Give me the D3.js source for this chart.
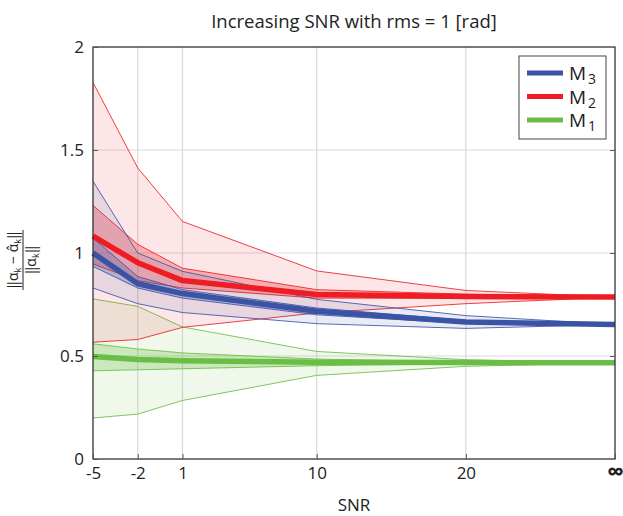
<!DOCTYPE html>
<html>
<head>
<meta charset="utf-8">
<script src="https://cdn.jsdelivr.net/npm/d3@7"></script>
<style>
  body { margin: 0; background: #fff; }
  svg text { font-family: "Open Sans", "Noto Sans", sans-serif; fill: #222; }
</style>
</head>
<body>
<div id="chart"></div>
<script>
// x positions (∞ drawn at 30) and their labels
const snrValues = [-5, -2, 1, 10, 20, 30];
const snrLabels = ["-5", "-2", "1", "10", "20", "\u221E"];
const yTicks = [0, 0.5, 1, 1.5, 2];

// M3 (blue)
const m3Mean    = [1.000, 0.851, 0.803, 0.717, 0.665, 0.653];
const m3InnerHi = [1.073, 0.886, 0.822, 0.733, 0.673, 0.653];
const m3InnerLo = [0.935, 0.830, 0.781, 0.700, 0.658, 0.653];
const m3OuterHi = [1.348, 1.000, 0.911, 0.775, 0.696, 0.653];
const m3OuterLo = [0.830, 0.754, 0.711, 0.657, 0.634, 0.653];

// M2 (red)
const m2Mean    = [1.082, 0.953, 0.866, 0.799, 0.789, 0.786];
const m2InnerHi = [1.231, 1.042, 0.926, 0.822, 0.800, 0.786];
const m2InnerLo = [0.947, 0.866, 0.830, 0.781, 0.780, 0.786];
const m2OuterHi = [1.828, 1.413, 1.153, 0.913, 0.818, 0.786];
const m2OuterLo = [0.567, 0.580, 0.639, 0.709, 0.754, 0.786];

// M1 (green)
const m1Mean    = [0.497, 0.483, 0.477, 0.470, 0.468, 0.467];
const m1InnerHi = [0.559, 0.534, 0.515, 0.485, 0.472, 0.467];
const m1InnerLo = [0.428, 0.433, 0.438, 0.453, 0.462, 0.467];
const m1OuterHi = [0.777, 0.741, 0.641, 0.522, 0.482, 0.467];
const m1OuterLo = [0.199, 0.218, 0.284, 0.406, 0.450, 0.467];

const series = [
    { name: "M", sub: "1", color: "#6abd45", mean: m1Mean, iHi: m1InnerHi, iLo: m1InnerLo, oHi: m1OuterHi, oLo: m1OuterLo },
    { name: "M", sub: "2", color: "#ee1d23", mean: m2Mean, iHi: m2InnerHi, iLo: m2InnerLo, oHi: m2OuterHi, oLo: m2OuterLo },
    { name: "M", sub: "3", color: "#3a53a4", mean: m3Mean, iHi: m3InnerHi, iLo: m3InnerLo, oHi: m3OuterHi, oLo: m3OuterLo }
];

const W = 623, H = 516;
const margin = { top: 47, right: 8, bottom: 57, left: 93 };
const width = W - margin.left - margin.right;
const height = H - margin.top - margin.bottom;

const svg = d3.select("#chart").append("svg")
    .attr("width", W).attr("height", H);

const g = svg.append("g")
    .attr("transform", `translate(${margin.left},${margin.top})`);

const x = d3.scaleLinear().domain([-5, 30]).range([0, width]);
const y = d3.scaleLinear().domain([0, 2]).range([height, 0]);

// grid
g.append("g").selectAll("line").data(snrValues.slice(1, -1)).join("line")
    .attr("x1", d => x(d)).attr("x2", d => x(d))
    .attr("y1", 0).attr("y2", height)
    .attr("stroke", "#d9d9d9").attr("stroke-width", 1.2);
g.append("g").selectAll("line").data(yTicks.slice(1, -1)).join("line")
    .attr("x1", 0).attr("x2", width)
    .attr("y1", d => y(d)).attr("y2", d => y(d))
    .attr("stroke", "#d9d9d9").attr("stroke-width", 1.2);

const area = (lo, hi) => d3.area()
    .x((d, i) => x(snrValues[i]))
    .y0((d, i) => y(lo[i]))
    .y1((d, i) => y(hi[i]))(snrValues);
const line = vals => d3.line()
    .x((d, i) => x(snrValues[i]))
    .y((d, i) => y(vals[i]))(snrValues);

// bands
series.forEach(s => {
    g.append("path").attr("d", area(s.oLo, s.oHi))
        .attr("fill", s.color).attr("fill-opacity", 0.11);
    g.append("path").attr("d", area(s.iLo, s.iHi))
        .attr("fill", s.color).attr("fill-opacity", 0.28);
    [s.oHi, s.oLo, s.iHi, s.iLo].forEach(v => {
        g.append("path").attr("d", line(v))
            .attr("fill", "none").attr("stroke", s.color)
            .attr("stroke-width", 1).attr("stroke-opacity", 0.85);
    });
});

// mean lines
series.forEach(s => {
    g.append("path").attr("d", line(s.mean))
        .attr("fill", "none").attr("stroke", s.color)
        .attr("stroke-width", 5.5).attr("stroke-linejoin", "round");
});

// frame
g.append("rect").attr("width", width).attr("height", height)
    .attr("fill", "none").attr("stroke", "#333").attr("stroke-width", 1.3);

// axes
const yAxis = g.append("g")
    .call(d3.axisLeft(y).tickValues(yTicks).tickFormat(d3.format("")).tickSizeInner(-5).tickSizeOuter(0).tickPadding(9));
yAxis.select(".domain").remove();
yAxis.selectAll("line").attr("stroke", "#555");
yAxis.selectAll("text").style("font-size", "17px").attr("fill", "#222");

const yAxisR = g.append("g").attr("transform", `translate(${width},0)`)
    .call(d3.axisRight(y).tickValues(yTicks.slice(1, -1)).tickFormat("").tickSizeInner(-5).tickSizeOuter(0));
yAxisR.select(".domain").remove();
yAxisR.selectAll("line").attr("stroke", "#555");

const xAxis = g.append("g").attr("transform", `translate(0,${height})`)
    .call(d3.axisBottom(x).tickValues(snrValues).tickFormat((d, i) => snrLabels[i]).tickSizeInner(-5).tickSizeOuter(0).tickPadding(8));
xAxis.select(".domain").remove();
xAxis.selectAll("line").attr("stroke", "#555");
xAxis.selectAll("text").style("font-size", "17px").attr("fill", "#222");
xAxis.selectAll("text").filter((d, i) => i === snrLabels.length - 1)
    .style("font-size", "24px").style("font-weight", "bold").attr("dy", "0.55em");

// titles
svg.append("text").attr("x", margin.left + width / 2).attr("y", 28)
    .attr("text-anchor", "middle").style("font-size", "18.5px")
    .text("Increasing SNR with rms = 1 [rad]");
svg.append("text").attr("x", margin.left + width / 2).attr("y", 511)
    .attr("text-anchor", "middle").style("font-size", "17px")
    .text("SNR");

// y label: ||α_k − α̂_k|| / ||α_k||, rotated
const yl = svg.append("g").attr("transform", "translate(23,260) rotate(-90)");
const num = yl.append("text").attr("x", 0).attr("y", -5).attr("text-anchor", "middle").style("font-size", "14px");
num.append("tspan").text("\u2016\u03B1");
num.append("tspan").attr("dy", 3).style("font-size", "9px").text("k");
num.append("tspan").attr("dy", -3).text(" \u2212 \u03B1\u0302");
num.append("tspan").attr("dy", 3).style("font-size", "9px").text("k");
num.append("tspan").attr("dy", -3).text("\u2016");
yl.append("line").attr("x1", -30).attr("x2", 30).attr("y1", 0).attr("y2", 0)
    .attr("stroke", "#222").attr("stroke-width", 1);
const den = yl.append("text").attr("x", 0).attr("y", 13).attr("text-anchor", "middle").style("font-size", "14px");
den.append("tspan").text("\u2016\u03B1");
den.append("tspan").attr("dy", 3).style("font-size", "9px").text("k");
den.append("tspan").attr("dy", -3).text("\u2016");

// legend
const lg = svg.append("g").attr("transform", "translate(519,56)");
lg.append("rect").attr("width", 87).attr("height", 83)
    .attr("fill", "#fff").attr("stroke", "#444").attr("stroke-width", 1);
series.slice().reverse().forEach((s, i) => {
    const ly = 17 + i * 23.5;
    lg.append("line").attr("x1", 8).attr("x2", 44).attr("y1", ly).attr("y2", ly)
        .attr("stroke", s.color).attr("stroke-width", 5);
    const t = lg.append("text").attr("x", 50).attr("y", ly + 7).style("font-size", "19px");
    t.append("tspan").text(s.name);
    t.append("tspan").attr("dy", 4).attr("dx", 2).style("font-size", "14px").text(s.sub);
});
</script>
</body>
</html>
